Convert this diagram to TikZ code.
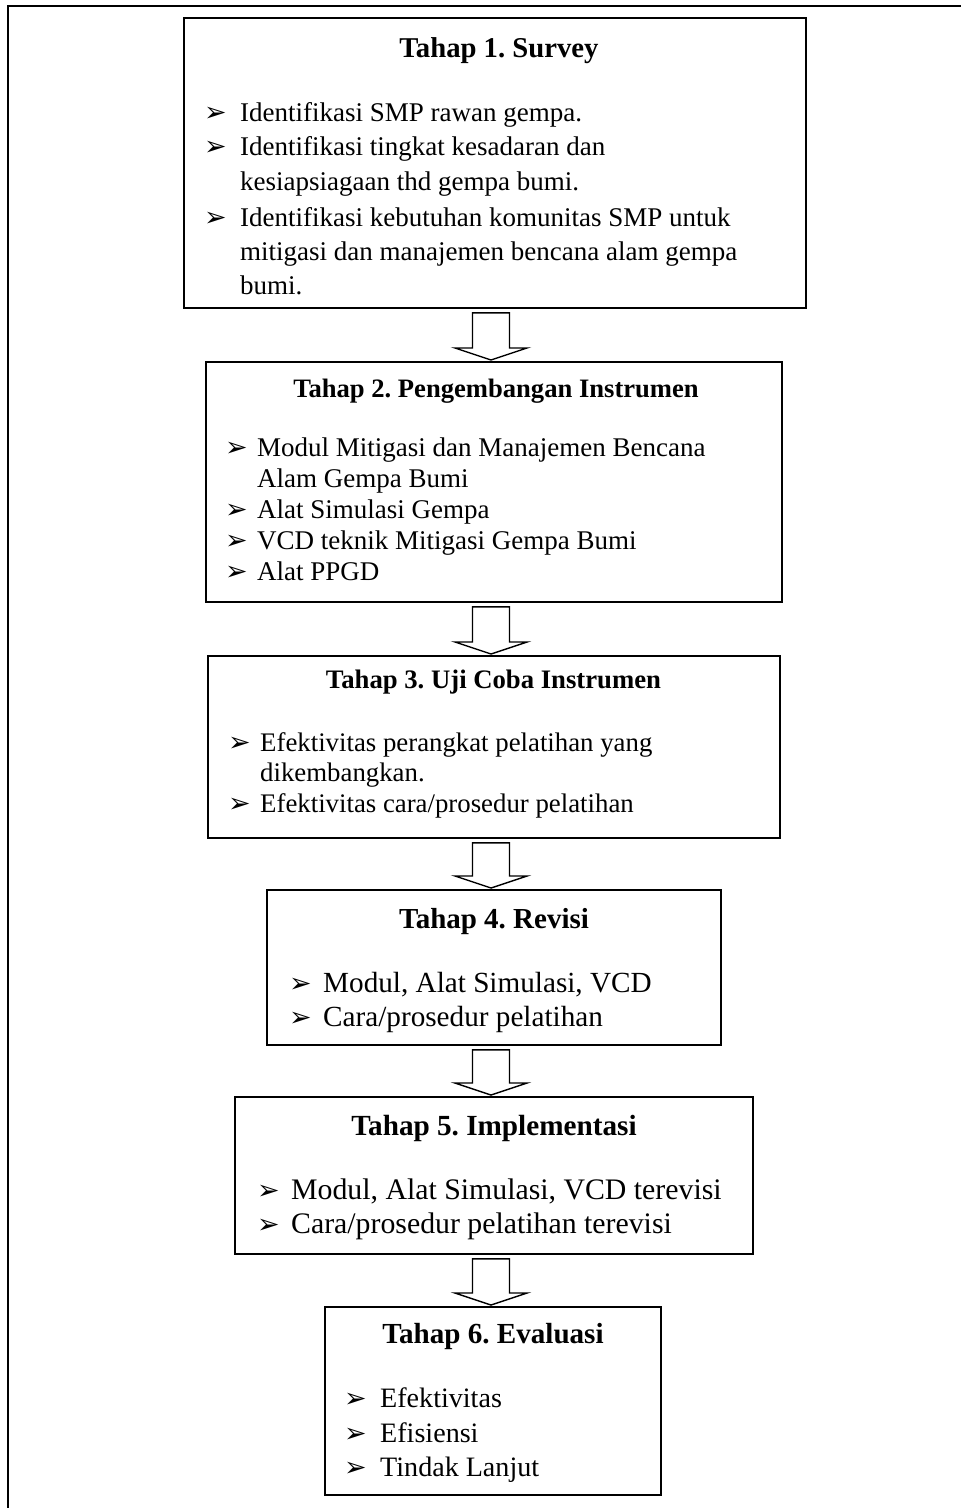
\documentclass[tikz,border=0pt]{standalone}
\usepackage{fontspec}
\setmainfont{Liberation Serif}
\newfontfamily\bulletfont{DejaVu Sans}
\usetikzlibrary{calc}
\frenchspacing
\newcommand\blkarrow[2]{%
  \draw[arrowline] ($(#1.south -| ax)+(-18.5,4)$) -- ($(#2.north -| ax)+(-18.5,-13)$)
    -- ($(#2.north -| ax)+(-36,-13)$) -- ($(#2.north -| ax)+(0,-1)$)
    -- ($(#2.north -| ax)+(36,-13)$) -- ($(#2.north -| ax)+(18.5,-13)$)
    -- ($(#1.south -| ax)+(18.5,4)$) -- cycle;}
\tikzset{
  box/.style={draw=black, line width=1.8pt, anchor=north west, inner sep=0pt},
  arrowline/.style={draw=black, line width=1.4pt, line join=miter},
  txt/.style={inner sep=0pt, anchor=base west},
  ttl/.style={inner sep=0pt, anchor=base},
  bul/.style={inner sep=0pt, anchor=base west, font=\bulletfont\fontsize{27}{27}\selectfont},
}
\begin{document}
\frenchspacing
\begin{tikzpicture}[x=1pt,y=-1pt]
\useasboundingbox (0,0) rectangle (961,1508);
\draw[line width=1.8pt] (8,1510) -- (8,6) -- (962,6);
\coordinate (ax) at (491,0);

% Box 1
\node[box, minimum width=622, minimum height=290] (b1) at (183,17) {};
\node[ttl, font=\bfseries\fontsize{28.7}{34}\selectfont] (t1) at (499,57) {Tahap 1. Survey};
\begin{scope}[every node/.append style={font=\fontsize{27}{34}\selectfont}]
\node[bul] (b1k1) at (204,121) {➢};
\node[txt] (b1a) at (240,121) {Identifikasi SMP rawan gempa.};
\node[bul] (b1k2) at (204,155) {➢};
\node[txt] (b1b) at (240,155) {Identifikasi tingkat kesadaran dan};
\node[txt] (b1c) at (240,190) {kesiapsiagaan thd gempa bumi.};
\node[bul] (b1k3) at (204,226) {➢};
\node[txt] (b1d) at (240,226) {Identifikasi kebutuhan komunitas SMP untuk};
\node[txt] (b1e) at (240,260) {mitigasi dan manajemen bencana alam gempa};
\node[txt] (b1f) at (240,294) {bumi.};
\end{scope}

% Box 2
\node[box, minimum width=576, minimum height=240] (b2) at (205,361) {};
\node[ttl, font=\bfseries\fontsize{26.6}{32}\selectfont] (t2) at (496,397) {Tahap 2. Pengembangan Instrumen};
\begin{scope}[every node/.append style={font=\fontsize{27}{32}\selectfont}]
\node[bul] (b2k1) at (225,456) {➢};
\node[txt] (b2a) at (257,456) {Modul Mitigasi dan Manajemen Bencana};
\node[txt] (b2b) at (257,487) {Alam Gempa Bumi};
\node[bul] (b2k2) at (225,518) {➢};
\node[txt] (b2c) at (257,518) {Alat Simulasi Gempa};
\node[bul] (b2k3) at (225,549) {➢};
\node[txt] (b2d) at (257,549) {VCD teknik Mitigasi Gempa Bumi};
\node[bul] (b2k4) at (225,580) {➢};
\node[txt] (b2e) at (257,580) {Alat PPGD};
\end{scope}

% Box 3
\node[box, minimum width=572, minimum height=182] (b3) at (207,655) {};
\node[ttl, font=\bfseries\fontsize{26.7}{32}\selectfont] (t3) at (493.5,688) {Tahap 3. Uji Coba Instrumen};
\begin{scope}[every node/.append style={font=\fontsize{26.8}{32}\selectfont}]
\node[bul] (b3k1) at (228,751) {➢};
\node[txt] (b3a) at (260,751) {Efektivitas perangkat pelatihan yang};
\node[txt] (b3b) at (260,781) {dikembangkan.};
\node[bul] (b3k2) at (228,812) {➢};
\node[txt] (b3c) at (260,812) {Efektivitas cara/prosedur pelatihan};
\end{scope}

% Box 4
\node[box, minimum width=454, minimum height=155] (b4) at (266,889) {};
\node[ttl, font=\bfseries\fontsize{29}{34}\selectfont] (t4) at (494,928) {Tahap 4. Revisi};
\begin{scope}[every node/.append style={font=\fontsize{29.2}{34}\selectfont}]
\node[bul] (b4k1) at (289,992) {➢};
\node[txt] (b4a) at (323,992) {Modul, Alat Simulasi, VCD};
\node[bul] (b4k2) at (289,1026) {➢};
\node[txt] (b4b) at (323,1026) {Cara/prosedur pelatihan};
\end{scope}

% Box 5
\node[box, minimum width=518, minimum height=157] (b5) at (234,1096) {};
\node[ttl, font=\bfseries\fontsize{29.2}{34}\selectfont] (t5) at (494,1135) {Tahap 5. Implementasi};
\begin{scope}[every node/.append style={font=\fontsize{29.8}{34}\selectfont}]
\node[bul] (b5k1) at (257,1199) {➢};
\node[txt] (b5a) at (291,1199) {Modul, Alat Simulasi, VCD terevisi};
\node[bul] (b5k2) at (257,1233) {➢};
\node[txt] (b5b) at (291,1233) {Cara/prosedur pelatihan terevisi};
\end{scope}

% Box 6
\node[box, minimum width=336, minimum height=188] (b6) at (324,1306) {};
\node[ttl, font=\bfseries\fontsize{29.1}{34}\selectfont] (t6) at (493,1343) {Tahap 6. Evaluasi};
\begin{scope}[every node/.append style={font=\fontsize{28.1}{34}\selectfont}]
\node[bul] (b6k1) at (344,1407) {➢};
\node[txt] (b6a) at (380,1407) {Efektivitas};
\node[bul] (b6k2) at (344,1442) {➢};
\node[txt] (b6b) at (380,1442) {Efisiensi};
\node[bul] (b6k3) at (344,1476) {➢};
\node[txt] (b6c) at (380,1476) {Tindak Lanjut};
\end{scope}

% Block arrows
\blkarrow{b1}{b2}
\blkarrow{b2}{b3}
\blkarrow{b3}{b4}
\blkarrow{b4}{b5}
\blkarrow{b5}{b6}
\end{tikzpicture}
\end{document}
